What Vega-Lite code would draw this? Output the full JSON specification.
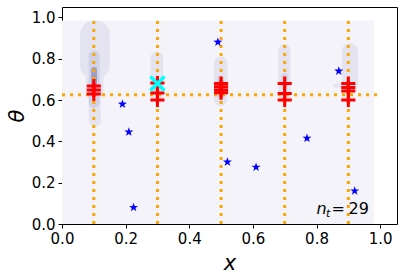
{
  "$schema": "https://vega.github.io/schema/vega-lite/v6.json",
  "width": 335,
  "height": 217,
  "autosize": {"type": "none"},
  "padding": {"left": 62, "top": 7, "right": 5, "bottom": 52},
  "background": "white",
  "config": {
    "view": {"stroke": "black", "strokeWidth": 1},
    "font": "DejaVu Sans",
    "axis": {
      "grid": false,
      "domain": false,
      "labelFlush": false,
      "labelOverlap": false,
      "tickColor": "black",
      "tickSize": 4,
      "tickWidth": 1,
      "labelFont": "DejaVu Sans",
      "labelFontSize": 15,
      "labelColor": "black",
      "titleFont": "DejaVu Sans",
      "titleFontSize": 21,
      "titleFontStyle": "italic",
      "titleFontWeight": "normal",
      "titleColor": "black"
    }
  },
  "datasets": {
    "blobs": [
      {"x1": 0.057, "x2": 0.15, "y1": 0.7, "y2": 0.985, "level": "1"},
      {"x1": 0.075, "x2": 0.13, "y1": 0.6, "y2": 0.8, "level": "1"},
      {"x1": 0.084, "x2": 0.122, "y1": 0.47, "y2": 0.66, "level": "1"},
      {"x1": 0.084, "x2": 0.118, "y1": 0.56, "y2": 0.84, "level": "2"},
      {"x1": 0.092, "x2": 0.11, "y1": 0.65, "y2": 0.76, "level": "3"},
      {"x1": 0.278, "x2": 0.318, "y1": 0.6, "y2": 0.835, "level": "1"},
      {"x1": 0.29, "x2": 0.31, "y1": 0.62, "y2": 0.7, "level": "2"},
      {"x1": 0.477, "x2": 0.52, "y1": 0.57, "y2": 0.81, "level": "1"},
      {"x1": 0.488, "x2": 0.51, "y1": 0.6, "y2": 0.72, "level": "2"},
      {"x1": 0.68, "x2": 0.718, "y1": 0.6, "y2": 0.87, "level": "1"},
      {"x1": 0.69, "x2": 0.71, "y1": 0.66, "y2": 0.73, "level": "2"},
      {"x1": 0.88, "x2": 0.93, "y1": 0.64, "y2": 0.875, "level": "1"},
      {"x1": 0.852, "x2": 0.9, "y1": 0.66, "y2": 0.68, "level": "1"}
    ],
    "pluses": [
      {"x": 0.1, "y": 0.668}, {"x": 0.1, "y": 0.648}, {"x": 0.1, "y": 0.629},
      {"x": 0.3, "y": 0.682}, {"x": 0.3, "y": 0.634}, {"x": 0.3, "y": 0.6},
      {"x": 0.5, "y": 0.68}, {"x": 0.5, "y": 0.664}, {"x": 0.5, "y": 0.648}, {"x": 0.5, "y": 0.635},
      {"x": 0.7, "y": 0.68}, {"x": 0.7, "y": 0.632}, {"x": 0.7, "y": 0.6},
      {"x": 0.9, "y": 0.68}, {"x": 0.9, "y": 0.661}, {"x": 0.9, "y": 0.643}, {"x": 0.9, "y": 0.6}
    ],
    "stars": [
      {"x": 0.19, "y": 0.58}, {"x": 0.21, "y": 0.445}, {"x": 0.225, "y": 0.08},
      {"x": 0.49, "y": 0.88}, {"x": 0.52, "y": 0.3}, {"x": 0.61, "y": 0.275},
      {"x": 0.77, "y": 0.415}, {"x": 0.87, "y": 0.74}, {"x": 0.92, "y": 0.16}
    ]
  },
  "layer": [
    {
      "data": {"values": [{"x1": 0, "x2": 0.98, "y1": 0, "y2": 0.985}]},
      "mark": {"type": "rect", "color": "#f4f3f9"},
      "encoding": {
        "x": {"field": "x1", "type": "quantitative",
              "scale": {"domain": [0, 1.053], "nice": false, "zero": false},
              "axis": {"values": [0, 0.2, 0.4, 0.6, 0.8, 1.0], "format": ".1f", "title": "x", "titlePadding": 6, "labelPadding": 3}},
        "x2": {"field": "x2"},
        "y": {"field": "y1", "type": "quantitative",
              "scale": {"domain": [0, 1.05], "nice": false, "zero": false},
              "axis": {"values": [0, 0.2, 0.4, 0.6, 0.8, 1.0], "format": ".1f", "title": "θ", "titlePadding": 4, "labelPadding": 3}},
        "y2": {"field": "y2"}
      }
    },
    {
      "data": {"name": "blobs"},
      "mark": {"type": "rect", "cornerRadius": 14},
      "encoding": {
        "x": {"field": "x1", "type": "quantitative"},
        "x2": {"field": "x2"},
        "y": {"field": "y1", "type": "quantitative"},
        "y2": {"field": "y2"},
        "color": {"field": "level", "type": "nominal", "legend": null,
                  "scale": {"domain": ["1", "2", "3"], "range": ["#e4e4f1", "#d0d0e7", "#9c9cc9"]}}
      }
    },
    {
      "data": {"values": [{"x": 0.1}, {"x": 0.3}, {"x": 0.5}, {"x": 0.7}, {"x": 0.9}]},
      "mark": {"type": "rule", "color": "#ffa500", "strokeWidth": 3, "strokeDash": [3, 5]},
      "encoding": {
        "x": {"field": "x", "type": "quantitative"},
        "y": {"datum": 0, "type": "quantitative"},
        "y2": {"datum": 1.0}
      }
    },
    {
      "data": {"values": [{"y": 0.625, "x1": 0, "x2": 1.0}]},
      "mark": {"type": "rule", "color": "#ffa500", "strokeWidth": 3, "strokeDash": [3, 5]},
      "encoding": {
        "x": {"field": "x1", "type": "quantitative"},
        "x2": {"field": "x2"},
        "y": {"field": "y", "type": "quantitative"}
      }
    },
    {
      "data": {"name": "pluses"},
      "mark": {"type": "point", "shape": "M-1,0L1,0M0,-1L0,1", "filled": false, "stroke": "#ff0000", "strokeWidth": 3, "size": 200, "opacity": 1},
      "encoding": {
        "x": {"field": "x", "type": "quantitative"},
        "y": {"field": "y", "type": "quantitative"}
      }
    },
    {
      "data": {"name": "stars"},
      "mark": {"type": "point", "shape": "M0,-1L0.235,-0.324L0.951,-0.309L0.38,0.124L0.588,0.809L0,0.4L-0.588,0.809L-0.38,0.124L-0.951,-0.309L-0.235,-0.324Z", "filled": true, "color": "#0000ff", "size": 90, "opacity": 1},
      "encoding": {
        "x": {"field": "x", "type": "quantitative"},
        "y": {"field": "y", "type": "quantitative"}
      }
    },
    {
      "data": {"values": [{"x": 0.3, "y": 0.68}]},
      "mark": {"type": "point", "shape": "M-1,-1L1,1M-1,1L1,-1", "filled": false, "stroke": "#00ffff", "strokeWidth": 3.5, "size": 200, "opacity": 1},
      "encoding": {
        "x": {"field": "x", "type": "quantitative"},
        "y": {"field": "y", "type": "quantitative"}
      }
    },
    {
      "data": {"values": [{"x": 0.8, "y": 0.046, "label": "n"}]},
      "mark": {"type": "text", "align": "left", "baseline": "alphabetic", "fontSize": 16, "fontStyle": "italic", "color": "black", "dx": 0},
      "encoding": {
        "x": {"field": "x", "type": "quantitative"},
        "y": {"field": "y", "type": "quantitative"},
        "text": {"field": "label"}
      }
    },
    {
      "data": {"values": [{"x": 0.8, "y": 0.046, "label": "t"}]},
      "mark": {"type": "text", "align": "left", "baseline": "alphabetic", "fontSize": 11, "fontStyle": "italic", "color": "black", "dx": 9.5, "dy": 3},
      "encoding": {
        "x": {"field": "x", "type": "quantitative"},
        "y": {"field": "y", "type": "quantitative"},
        "text": {"field": "label"}
      }
    },
    {
      "data": {"values": [{"x": 0.8, "y": 0.046, "label": "="}]},
      "mark": {"type": "text", "align": "left", "baseline": "alphabetic", "fontSize": 16, "color": "black", "dx": 15},
      "encoding": {
        "x": {"field": "x", "type": "quantitative"},
        "y": {"field": "y", "type": "quantitative"},
        "text": {"field": "label"}
      }
    },
    {
      "data": {"values": [{"x": 0.8, "y": 0.046, "label": "29"}]},
      "mark": {"type": "text", "align": "left", "baseline": "alphabetic", "fontSize": 16, "color": "black", "dx": 32},
      "encoding": {
        "x": {"field": "x", "type": "quantitative"},
        "y": {"field": "y", "type": "quantitative"},
        "text": {"field": "label"}
      }
    }
  ]
}
